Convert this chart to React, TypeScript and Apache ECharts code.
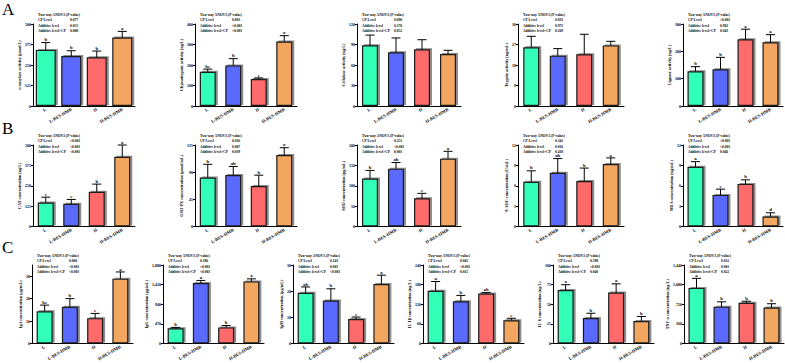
import React, { useEffect, useRef } from 'react';
import * as echarts from 'echarts';

// Treatment groups and their fill colours
const groups = ['L', 'L-BES-HMB', 'H', 'H-BES-HMB'];
const groupColors = ['#33FFB8', '#5A6BFF', '#FF6A6A', '#F2A65E'];
const anovaTitle = 'Two-way ANOVA (P-value)';
const pLabels = ['CP Level', 'Additive level', 'Additive level×CP'];

// Row A: digestive enzymes
const amylaseMean = [342, 305, 297, 417];
const amylaseErr = [45, 32, 38, 38];
const amylaseLetters = ['b', 'b', 'b', 'a'];
const amylaseP = ['0.077', '0.055', '0.008'];

const chymoMean = [167, 198, 132, 315];
const chymoErr = [13, 33, 5, 28];
const chymoLetters = ['bc', 'b', 'c', 'a'];
const chymoP = ['0.003', '<0.001', '<0.001'];

const cellulaseMean = [88.8, 78.6, 83, 76];
const cellulaseErr = [15, 21, 14, 5.5];
const cellulaseLetters = ['', '', '', ''];
const cellulaseP = ['0.690', '0.170', '0.852'];

const trypsinMean = [25.8, 22.1, 22.7, 26.6];
const trypsinErr = [4.8, 3.1, 8.8, 1.8];
const trypsinLetters = ['', '', '', ''];
const trypsinP = ['0.833', '0.971', '0.169'];

const lignaseMean = [127, 134, 244, 233];
const lignaseErr = [17, 44, 37, 28];
const lignaseLetters = ['b', 'b', 'a', 'a'];
const lignaseP = ['<0.001', '0.902', '0.043'];

// Row B: antioxidant indices
const catMean = [147, 139, 213, 428];
const catErr = [33, 27, 47, 72];
const catLetters = ['c', 'c', 'b', 'a'];
const catP = ['<0.001', '<0.001', '<0.001'];

const gshMean = [81, 85.4, 67, 118.5];
const gshErr = [22, 14, 18, 12];
const gshLetters = ['b', 'ab', 'b', 'a'];
const gshP = ['0.016', '0.007', '0.039'];

const sodMean = [117.6, 142, 69.4, 166.5];
const sodErr = [20, 15, 12, 18];
const sodLetters = ['b', 'ab', 'c', 'a'];
const sodP = ['0.251', '<0.001', '0.001'];

const taocMean = [6.6, 7.9, 6.7, 9.2];
const taocErr = [1.6, 2.1, 1.9, 0.9];
const taocLetters = ['b', 'ab', 'b', 'a'];
const taocP = ['0.341', '0.016', '0.418'];

const mdaMean = [8.8, 4.65, 6.27, 1.47];
const mdaErr = [0.75, 0.85, 0.6, 0.55];
const mdaLetters = ['a', 'c', 'b', 'd'];
const mdaP = ['<0.001', '<0.001', '0.046'];

// Row C: immune indices
const igaMean = [14.4, 16.4, 11.3, 28.9];
const igaErr = [2.7, 3.6, 2.1, 3.0];
const igaLetters = ['bc', 'b', 'c', 'a'];
const igaP = ['0.006', '<0.001', '<0.001'];

const iggMean = [362, 1450, 385, 1487];
const iggErr = [23, 60, 45, 61];
const iggLetters = ['b', 'a', 'b', 'a'];
const iggP = ['0.186', '<0.001', '<0.001'];

const igmMean = [19.4, 16.4, 9.35, 22.7];
const igmErr = [2.2, 4.5, 0.75, 3.4];
const igmLetters = ['ab', 'b', 'c', 'a'];
const igmP = ['0.143', '0.001', '<0.001'];

const il1Mean = [161, 129, 152.5, 71];
const il1Err = [28.5, 18, 3.5, 6];
const il1Letters = ['a', 'b', 'ab', 'c'];
const il1P = ['0.002', '<0.001', '0.015'];

const il6Mean = [68, 32.4, 64.8, 28.7];
const il6Err = [6.9, 6.1, 11.2, 5.7];
const il6Letters = ['a', 'b', 'a', 'b'];
const il6P = ['0.598', '<0.001', '0.040'];

const tnfMean = [1020, 676, 746, 659];
const tnfErr = [175, 88, 29, 70];
const tnfLetters = ['a', 'b', 'b', 'b'];
const tnfP = ['0.012', '0.001', '0.022'];

// Panels in reading order; max/step give each y-axis range
const panelDefs = [
  { row: 0, name: 'α-amylase activity (μmol/L)', mean: amylaseMean, err: amylaseErr, letters: amylaseLetters, p: amylaseP, max: 500, step: 125 },
  { row: 0, name: 'Chymotrypsin activity (ng/L)', mean: chymoMean, err: chymoErr, letters: chymoLetters, p: chymoP, max: 400, step: 100 },
  { row: 0, name: 'Cellulase activity (ng/L)', mean: cellulaseMean, err: cellulaseErr, letters: cellulaseLetters, p: cellulaseP, max: 120, step: 30 },
  { row: 0, name: 'Trypsin activity (ng/mL)', mean: trypsinMean, err: trypsinErr, letters: trypsinLetters, p: trypsinP, max: 36, step: 9 },
  { row: 0, name: 'Lignase activity (ng/L)', mean: lignaseMean, err: lignaseErr, letters: lignaseLetters, p: lignaseP, max: 300, step: 100 },
  { row: 1, name: 'CAT concentration (ng/L)', mean: catMean, err: catErr, letters: catLetters, p: catP, max: 500, step: 125 },
  { row: 1, name: 'GSH-PX concentration (pmol/mL)', mean: gshMean, err: gshErr, letters: gshLetters, p: gshP, max: 135, step: 45 },
  { row: 1, name: 'SOD concentration (pg/mL)', mean: sodMean, err: sodErr, letters: sodLetters, p: sodP, max: 200, step: 50 },
  { row: 1, name: 'T-AOC concentration (U/mL)', mean: taocMean, err: taocErr, letters: taocLetters, p: taocP, max: 12, step: 3 },
  { row: 1, name: 'MDA concentration (ng/mL)', mean: mdaMean, err: mdaErr, letters: mdaLetters, p: mdaP, max: 12, step: 3 },
  { row: 2, name: 'IgA concentration (μg/mL)', mean: igaMean, err: igaErr, letters: igaLetters, p: igaP, max: 35, step: 10 },
  { row: 2, name: 'IgG concentration (μg/mL)', mean: iggMean, err: iggErr, letters: iggLetters, p: iggP, max: 1880, step: 470 },
  { row: 2, name: 'IgM concentration (μg/mL)', mean: igmMean, err: igmErr, letters: igmLetters, p: igmP, max: 30, step: 10 },
  { row: 2, name: 'IL-1β concentration (ng/L)', mean: il1Mean, err: il1Err, letters: il1Letters, p: il1P, max: 240, step: 60 },
  { row: 2, name: 'IL-6 concentration (ng/L)', mean: il6Mean, err: il6Err, letters: il6Letters, p: il6P, max: 100, step: 25 },
  { row: 2, name: 'TNF-α concentration (ng/L)', mean: tnfMean, err: tnfErr, letters: tnfLetters, p: tnfP, max: 1440, step: 360 },
];

const rowLabels = ['A', 'B', 'C'];

// Layout of the panel grids (pixels)
const rowTops = [24, 145, 265];
const rowHeights = [82, 81.5, 83];
const rowLabelTops = [1, 120, 239];
const colLefts = [
  [33, 195, 357, 518, 683],
  [33, 195, 357, 518, 683],
  [32, 163, 293, 423, 553, 684],
];
const colWidths = [
  [102, 102, 104, 106, 100],
  [102, 102, 104, 106, 100],
  [101, 101, 101, 101, 101, 100],
];

const FONT = 'Liberation Serif';

function buildOption() {
  const grid: any[] = [];
  const xAxis: any[] = [];
  const yAxis: any[] = [];
  const series: any[] = [];
  const graphic: any[] = [];
  const colCount = [0, 0, 0];

  panelDefs.forEach((p, i) => {
    const c = colCount[p.row]++;
    const left = colLefts[p.row][c];
    const width = colWidths[p.row][c];
    const top = rowTops[p.row];
    const height = rowHeights[p.row];
    const labelChars = String(p.max).length;
    const barWidth = i === 0 ? 20 : 16;

    grid.push({ left, top, width, height, containLabel: false });
    xAxis.push({
      gridIndex: i,
      type: 'category',
      data: groups,
      axisLine: { lineStyle: { color: '#000', width: 1 } },
      axisTick: { alignWithLabel: true, length: 2, lineStyle: { color: '#000', width: 1 } },
      axisLabel: {
        interval: 0,
        rotate: 30,
        margin: 3,
        fontSize: 4.5,
        fontFamily: FONT,
        fontWeight: 'bold',
        color: '#000',
      },
    });
    yAxis.push({
      gridIndex: i,
      type: 'value',
      min: 0,
      max: p.max,
      interval: p.step,
      name: p.name,
      nameLocation: 'middle',
      nameGap: labelChars * 2.1 + 4,
      nameTextStyle: { fontSize: 4.2, fontFamily: FONT, fontWeight: 'bold', color: '#000' },
      axisLine: { show: true, lineStyle: { color: '#000', width: 1 } },
      axisTick: { show: true, length: 2, lineStyle: { color: '#000', width: 1 } },
      axisLabel: {
        fontSize: 4,
        margin: 2,
        fontFamily: FONT,
        fontWeight: 'bold',
        color: '#000',
        showMaxLabel: p.max % p.step === 0,
      },
      splitLine: { show: false },
    });

    series.push({
      type: 'bar',
      xAxisIndex: i,
      yAxisIndex: i,
      barWidth,
      data: p.mean.map((v, j) => ({ value: v, itemStyle: { color: groupColors[j] } })),
      itemStyle: {
        borderColor: '#1a1a1a',
        borderWidth: 1.2,
        shadowColor: 'rgba(0,0,0,0.45)',
        shadowOffsetX: 2,
        shadowOffsetY: -1,
        shadowBlur: 0,
      },
    });

    const letters = p.letters;
    series.push({
      type: 'custom',
      xAxisIndex: i,
      yAxisIndex: i,
      clip: false,
      z: 3,
      data: p.mean.map((v, j) => [j, v, p.err[j]]),
      renderItem: (params: any, api: any) => {
        const j = api.value(0);
        const m = api.value(1);
        const e = api.value(2);
        const base = api.coord([j, m]);
        const tip = api.coord([j, m + e]);
        const half = 4.5;
        const lineStyle = { stroke: '#000', lineWidth: 1 };
        const children: any[] = [
          { type: 'line', shape: { x1: tip[0], y1: base[1], x2: tip[0], y2: tip[1] }, style: lineStyle },
          { type: 'line', shape: { x1: tip[0] - half, y1: tip[1], x2: tip[0] + half, y2: tip[1] }, style: lineStyle },
        ];
        const letter = letters[j];
        if (letter) {
          children.push({
            type: 'text',
            style: {
              text: letter,
              x: tip[0],
              y: tip[1] - 0.4,
              align: 'center',
              verticalAlign: 'bottom',
              fontSize: 4.8,
              fontFamily: FONT,
              fontWeight: 'bold',
              fill: '#000',
            },
          });
        }
        return { type: 'group', children };
      },
    });

    // ANOVA summary block in the upper-left of each panel
    const statText = (text: string, x: number, y: number) => ({
      type: 'text',
      x,
      y,
      style: {
        text,
        fontSize: 3.6,
        fontFamily: FONT,
        fontWeight: 'bold',
        fill: '#000',
        verticalAlign: 'middle',
      },
    });
    graphic.push(statText(anovaTitle, left + 5, top - 9.5));
    const rowYs = [top - 3.8, top + 1.8, top + 7.3];
    pLabels.forEach((lbl, k) => {
      graphic.push(statText(lbl, left + 5, rowYs[k]));
      graphic.push(statText(p.p[k], left + 37, rowYs[k]));
    });
  });

  rowLabels.forEach((lbl, r) => {
    graphic.push({
      type: 'text',
      x: 2,
      y: rowLabelTops[r],
      style: { text: lbl, fontSize: 17, fontFamily: FONT, fill: '#000', verticalAlign: 'top' },
    });
  });

  return {
    animation: false,
    backgroundColor: '#fff',
    grid,
    xAxis,
    yAxis,
    series,
    graphic,
  };
}

export default function App() {
  const ref = useRef<HTMLDivElement>(null);
  useEffect(() => {
    if (!ref.current) return;
    const chart = echarts.init(ref.current, null, { renderer: 'svg' });
    chart.setOption(buildOption() as any);
    return () => chart.dispose();
  }, []);
  return (
    <div
      ref={ref}
      style={{ position: 'absolute', left: 0, top: 0, width: 785, height: 363, background: '#fff' }}
    />
  );
}
